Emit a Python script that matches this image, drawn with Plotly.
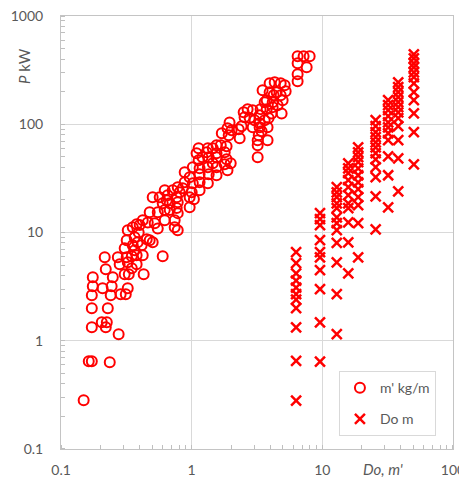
import plotly.graph_objects as go

# ---- Series 1: m' kg/m  vs  P kW (open circles) ----
m_kgm = [
    6.47, 7.19, 8.00, 6.47, 7.59, 6.47, 6.47,
    3.95, 4.32, 4.80, 5.15, 5.24, 4.97, 4.55, 4.17, 3.75, 3.49, 3.95, 4.24, 3.62, 3.37,
    3.75, 4.17, 4.88, 3.88, 3.62, 3.31, 2.93, 2.68, 2.54, 2.78, 3.03, 3.31, 3.81, 3.26,
    3.81, 3.20, 3.20, 2.41, 2.29, 2.33, 4.80, 4.47, 4.09, 3.31, 3.43, 3.20, 2.50, 2.93,
    1.95, 1.88, 1.70, 1.92, 1.85, 1.67, 1.79, 1.85, 1.99, 1.55, 1.45, 1.33, 1.13, 1.21,
    1.13, 1.02, 1.33, 1.55, 1.35, 1.55, 1.15, 0.965, 0.884, 1.02, 1.33, 1.15, 1.00, 0.853,
    0.782, 0.716, 0.622, 0.569, 0.503, 0.655, 2.02, 1.35, 1.45, 0.884, 1.55, 1.79, 1.88,
    1.15, 1.15, 0.809, 0.768, 0.644, 0.600, 0.679, 0.782, 0.965, 0.965, 0.768, 0.622,
    0.550, 0.477, 0.422, 0.461, 0.400, 0.550, 0.741, 0.741, 0.782, 0.622, 0.521, 0.354,
    0.324, 0.366, 0.318, 0.354, 0.414, 0.477, 0.307, 0.366, 0.379, 0.422, 0.216, 0.272,
    0.318, 0.600, 1.09, 1.30, 1.55, 1.04, 0.782, 0.679, 0.379, 0.393, 0.453, 0.324, 0.281,
    0.379, 0.348, 0.330, 0.429, 0.249, 0.220, 0.175, 0.175, 0.208, 0.244, 0.324, 0.313,
    0.286, 0.240, 0.172, 0.172, 0.228, 0.172, 0.205, 0.224, 0.220, 0.276, 0.149, 0.163,
    0.172, 0.236, 0.386, 0.503, 0.348, 0.307,
]
p_m = [
    425, 425, 425, 366, 337, 290, 250,
    239, 244, 239, 229, 202, 167, 150, 160, 167, 206, 198, 185, 160, 138,
    138, 144, 126, 114, 109, 121, 135, 138, 116, 114, 109, 93.8, 93.8, 79.1,
    71.2, 64.0, 49.6, 95.9, 89.9, 74.3, 185, 198, 126, 102, 86.2, 71.2, 129, 93.8,
    104, 91.8, 82.6, 79.1, 62.7, 64.0, 55.1, 47.5, 43.6, 64.0, 60.0, 60.0, 60.0, 49.6,
    46.5, 40.1, 40.1, 40.1, 34.5, 33.8, 34.5, 32.4, 29.1, 28.5, 28.5, 24.6, 23.5, 25.6,
    26.2, 24.6, 24.6, 21.2, 21.2, 22.1, 88.1, 49.6, 43.6, 36.0, 49.6, 42.7, 37.6,
    39.2, 29.1, 23.5, 21.2, 19.9, 18.6, 18.6, 19.0, 21.2, 17.1, 16.8, 16.1,
    15.4, 15.4, 13.0, 12.4, 11.7, 10.9, 13.0, 11.2, 10.5, 13.0, 12.2, 11.2,
    10.5, 9.04, 8.48, 7.63, 7.63, 8.48, 7.16, 6.85, 6.17, 6.17, 5.91, 5.91,
    5.91, 6.04, 54.0, 55.1, 54.0, 20.3, 15.1, 16.1, 11.9, 10.0, 8.66, 5.31, 5.09,
    5.09, 4.68, 4.12, 4.12, 3.86, 4.58, 3.86, 3.19, 3.05, 3.19, 3.05, 2.69,
    2.69, 2.63, 2.63, 2.00, 2.00, 1.33, 1.48, 1.48, 1.33, 1.15, 0.282, 0.647,
    0.647, 0.633, 8.13, 8.13, 6.04, 4.12,
]

# ---- Series 2: Do m  vs  P kW (crosses) ----
do_6 = [6.6, 5.2, 4.2, 3.6, 3.1, 2.7, 2.4, 2.0, 1.33, 0.65, 0.28]
do_10 = [15.1, 13.3, 11.7, 8.5, 6.6, 5.9, 4.5, 3.0, 1.48, 0.64]
do_13 = [26.2, 23.5, 21.2, 18.6, 16.8, 13.8, 12.2, 10.5, 8.0, 5.3, 2.7, 1.15]
do_16 = [43.6, 39.2, 35.3, 30.4, 26.2, 22.1, 18.6, 16.8, 12.4, 8.1, 4.2]
do_19 = [61.3, 55.1, 49.6, 44.6, 39.2, 33.8, 29.1, 25.1, 21.2, 17.9, 12.2, 5.9]
do_26 = [109, 95.9, 84.4, 75.9, 68.2, 61.3, 54.0, 47.5, 40.1, 32.4, 21.6, 10.7]
do_32 = [167, 150, 135, 119, 104, 93.8, 82.6, 71.2, 50.6, 33.8, 17.1]
do_38 = [244, 220, 198, 178, 160, 144, 129, 114, 95.9, 71.2, 48.5, 24.0]
do_50 = [443, 407, 366, 336, 302, 272, 239, 198, 167, 126, 84.4, 42.7]
do_values = [6.3, 9.6, 12.9, 15.8, 18.8, 25.6, 31.9, 38.1, 50.2]
do_power = [do_6, do_10, do_13, do_16, do_19, do_26, do_32, do_38, do_50]

do_m = []
p_do = []
for d, ps in zip(do_values, do_power):
    do_m += [d] * len(ps)
    p_do += ps

x_ticks = [0.1, 1, 10, 100]
x_tick_text = ["0.1", "1", "10", "100"]
y_ticks = [0.1, 1, 10, 100, 1000]
y_tick_text = ["0.1", "1", "10", "100", "1000"]

RED = "#FF0000"
GRAY_TXT = "#595959"
FONT = "Lato"

fig = go.Figure()
fig.add_trace(go.Scatter(
    x=m_kgm, y=p_m, mode="markers", name="m' kg/m", legendgroup="a",
    marker=dict(symbol="circle-open", size=10, color=RED, line=dict(width=2, color=RED)),
))
fig.add_trace(go.Scatter(
    x=do_m, y=p_do, mode="markers", name="Do m", legendgroup="b",
    marker=dict(symbol="x-thin", size=10, color=RED, line=dict(width=2.5, color=RED)),
))

axis_common = dict(
    type="log", automargin=False, ticklabeloverflow="allow",
    showgrid=True, gridcolor="#d9d9d9", gridwidth=1,
    showline=True, linecolor="#c4c4c4", linewidth=1, mirror=True,
    ticks="", zeroline=False,
    tickfont=dict(family=FONT, size=14, color=GRAY_TXT),
    minor=dict(ticks="inside", ticklen=4, tickcolor="#bfbfbf", dtick="D1", showgrid=False),
)

fig.update_xaxes(
    **axis_common,
    range=[-1.0003, 2.0003], tickvals=x_ticks, ticktext=x_tick_text, ticklabelstandoff=8,
)
fig.update_yaxes(
    **axis_common,
    range=[-1.0003, 3.0003], tickvals=y_ticks, ticktext=y_tick_text, ticklabelstandoff=14,
)

fig.add_annotation(
    text="<i>P</i> kW", xref="paper", yref="paper", x=-0.094, y=0.885,
    xanchor="center", yanchor="middle",
    textangle=-90, showarrow=False, font=dict(family=FONT, size=15, color=GRAY_TXT),
)
fig.add_annotation(
    text="<i>Do, m'</i>", xref="paper", yref="paper", x=0.821, y=-0.046,
    xanchor="center", yanchor="middle",
    showarrow=False, font=dict(family=FONT, size=15, color=GRAY_TXT),
)

# page body has an 8px margin, so the figure is sized/offset to compensate
fig.update_layout(
    width=459, height=473,
    margin=dict(l=53, r=14, t=8, b=32, autoexpand=False),
    paper_bgcolor="white", plot_bgcolor="white",
    showlegend=True,
    legend=dict(
        x=0.709, y=0.18, xanchor="left", yanchor="top",
        bordercolor="#d9d9d9", borderwidth=1, bgcolor="white",
        font=dict(family=FONT, size=14, color=GRAY_TXT),
        traceorder="grouped", tracegroupgap=10,
    ),
)

fig.write_html("out.html")
